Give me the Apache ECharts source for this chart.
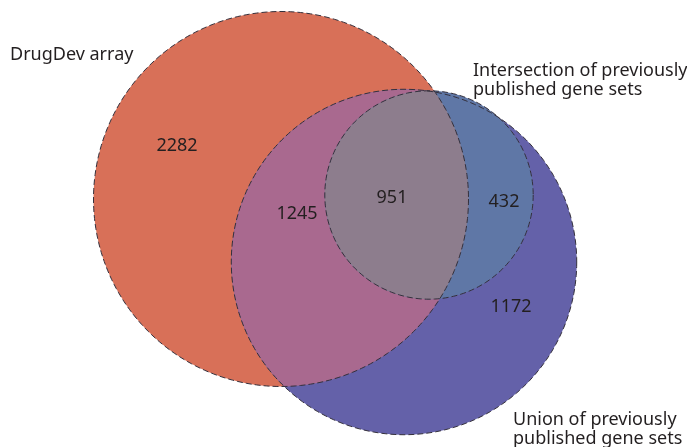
<!DOCTYPE html>
<html><head><meta charset="utf-8">
<script src="https://cdn.jsdelivr.net/npm/echarts@6/dist/echarts.min.js"></script>
<style>html,body{margin:0;padding:0;background:#fff}#c{width:687px;height:447px}</style>
</head><body><div id="c"></div>
<script>
// ---- data ----
const regionNames = ['DrugDev only', 'DrugDev & Union only', 'DrugDev & Intersection', 'Intersection only', 'Union only'];
const regionValues = [2282, 1245, 951, 432, 1172];
const setNames = ['DrugDev array', 'Union of previously\npublished gene sets', 'Intersection of previously\npublished gene sets'];
const setRegions = [[0, 1, 2], [1, 2, 3, 4], [2, 3]];

// ---- layout (axis units) ----
const setCenters = [[281, 199], [404, 262], [429, 195]];
const radiusScale = 2.802; // radius = sqrt(set size) * scale (area-proportional)
const regionLabelPos = [[177, 146], [297, 214], [392, 198], [504, 202], [511, 307]];
const setLabelPos = [[10, 55, 'left'], [513, 429, 'left'], [473, 80, 'left']];

// ---- styles ----
const regionColors = ['#d87058', '#a9698f', '#8d7d8d', '#5f77a6', '#6461a9'];
const textColor = '#231f20';
const fontFamily = '"Noto Sans", "Open Sans", sans-serif';

const setSizes = setRegions.map(rs => rs.reduce((s, i) => s + regionValues[i], 0));
const setRadii = setSizes.map(s => Math.sqrt(s) * radiusScale);

function circlePts(c, r, api) {
  const pts = [];
  const N = 240;
  for (let i = 0; i < N; i++) {
    const t = i / N * Math.PI * 2;
    pts.push(api.coord([c[0] + r * Math.cos(t), c[1] + r * Math.sin(t)]));
  }
  return pts;
}
function lensPts(c1, r1, c2, r2, api) {
  const dx = c2[0] - c1[0], dy = c2[1] - c1[1];
  const d = Math.hypot(dx, dy);
  const a = (r1 * r1 - r2 * r2 + d * d) / (2 * d);
  const al = Math.acos(Math.max(-1, Math.min(1, a / r1)));
  const be = Math.acos(Math.max(-1, Math.min(1, (d - a) / r2)));
  const phi = Math.atan2(dy, dx);
  const pts = [];
  const N = 160;
  for (let i = 0; i <= N; i++) {
    const t = phi - al + 2 * al * i / N;
    pts.push(api.coord([c1[0] + r1 * Math.cos(t), c1[1] + r1 * Math.sin(t)]));
  }
  for (let i = 0; i <= N; i++) {
    const t = phi + Math.PI - be + 2 * be * i / N;
    pts.push(api.coord([c2[0] + r2 * Math.cos(t), c2[1] + r2 * Math.sin(t)]));
  }
  return pts;
}

const chart = echarts.init(document.getElementById('c'), null, { renderer: 'canvas' });
chart.setOption({
  animation: false,
  backgroundColor: '#ffffff',
  grid: { left: 0, right: 0, top: 0, bottom: 0 },
  xAxis: { type: 'value', min: 0, max: 687, show: false },
  yAxis: { type: 'value', min: 0, max: 447, inverse: true, show: false },
  series: [
    {
      type: 'custom',
      name: 'venn',
      data: [[0, 0]],
      silent: true,
      renderItem: function (params, api) {
        const C = setCenters, R = setRadii;
        const children = [];
        const fill = (pts, color) => children.push({ type: 'polygon', shape: { points: pts }, style: { fill: color, stroke: null } });
        fill(circlePts(C[0], R[0], api), regionColors[0]);
        fill(circlePts(C[1], R[1], api), regionColors[4]);
        fill(lensPts(C[0], R[0], C[1], R[1], api), regionColors[1]);
        fill(circlePts(C[2], R[2], api), regionColors[3]);
        fill(lensPts(C[0], R[0], C[2], R[2], api), regionColors[2]);
        for (let s = 0; s < 3; s++) {
          children.push({ type: 'polygon', shape: { points: circlePts(C[s], R[s], api) },
            style: { fill: null, stroke: '#34303c', lineWidth: 1, lineDash: [6, 3] } });
        }
        regionValues.forEach((v, i) => {
          const p = api.coord(regionLabelPos[i]);
          children.push({ type: 'text', x: p[0], y: p[1], style: { text: String(v), fill: textColor,
            fontSize: 18, fontFamily: fontFamily, align: 'center', verticalAlign: 'middle' } });
        });
        setNames.forEach((n, i) => {
          const p = api.coord([setLabelPos[i][0], setLabelPos[i][1]]);
          children.push({ type: 'text', x: p[0], y: p[1], style: { text: n, fill: textColor,
            fontSize: 18, fontFamily: fontFamily, align: setLabelPos[i][2], verticalAlign: 'middle', lineHeight: 19 } });
        });
        return { type: 'group', children: children };
      }
    }
  ]
});
</script>
</body></html>
